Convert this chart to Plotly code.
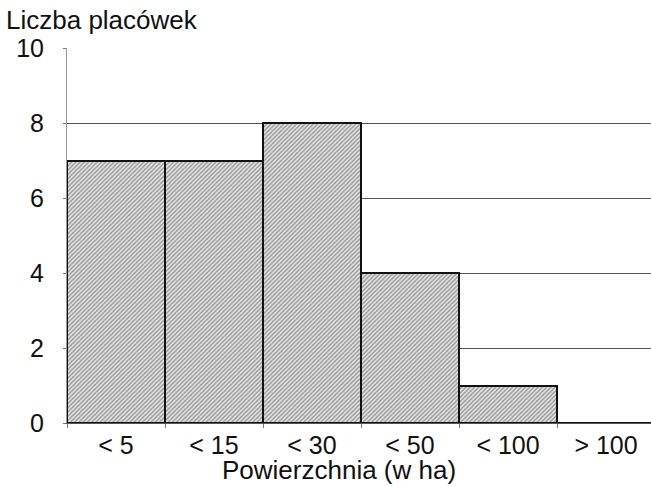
import plotly.graph_objects as go

categories = ["< 5", "< 15", "< 30", "< 50", "< 100", "> 100"]
counts = [7, 7, 8, 4, 1, 0]
y_ticks = [0, 2, 4, 6, 8, 10]

W, H = 651, 486
ML, MT, MB = 67, 48, 63
plot_w = W - ML
plot_h = H - MT - MB
cat_w = 98

font = dict(family="Liberation Sans, Arial, sans-serif", size=25, color="#111")
title_font = dict(family="Liberation Sans, Arial, sans-serif", size=26, color="#111")

fig = go.Figure(go.Bar(
    x=categories, y=counts,
    marker=dict(
        color="#dcdcdc",
        line=dict(color="#111", width=2),
        pattern=dict(shape="/", fgcolor="#333", bgcolor="#e4e4e4", size=3, solidity=0.4),
    ),
    width=1.0,
))

fig.update_layout(
    width=W, height=H,
    margin=dict(l=ML, r=0, t=MT, b=MB, pad=0, autoexpand=False),
    paper_bgcolor="white", plot_bgcolor="white",
    font=font, showlegend=False, bargap=0,
    xaxis=dict(
        type="category", range=[-0.5, -0.5 + plot_w / cat_w], automargin=False,
        tickson="boundaries", ticks="outside", ticklen=4, tickcolor="#777",
        showgrid=False, showline=True, linecolor="#555", linewidth=1,
        tickfont=font, ticklabelstandoff=0,
    ),
    yaxis=dict(
        range=[0, 10], tickvals=y_ticks, ticks="outside", ticklen=3, tickcolor="#777",
        showgrid=True, gridcolor="#555", gridwidth=1, automargin=False,
        showline=True, linecolor="#999", linewidth=1,
        zeroline=False, tickfont=font, ticklabelstandoff=14,
    ),
    annotations=[
        dict(text="Liczba placówek", xref="paper", yref="paper",
             x=(5 - ML) / plot_w, y=1 + (MT - 5) / plot_h,
             xanchor="left", yanchor="top", borderpad=0, yshift=1,
             showarrow=False, font=title_font),
        dict(text="Powierzchnia (w ha)", xref="paper", yref="paper",
             x=(339 - ML) / plot_w, y=-(H - MT - plot_h) / plot_h,
             xanchor="center", yanchor="bottom", borderpad=0, yshift=0,
             showarrow=False, font=title_font),
    ],
)

fig.write_html(
    "out.html",
    config={"displayModeBar": False},
    post_script="document.body.style.margin='0';document.body.style.overflow='hidden';",
)
